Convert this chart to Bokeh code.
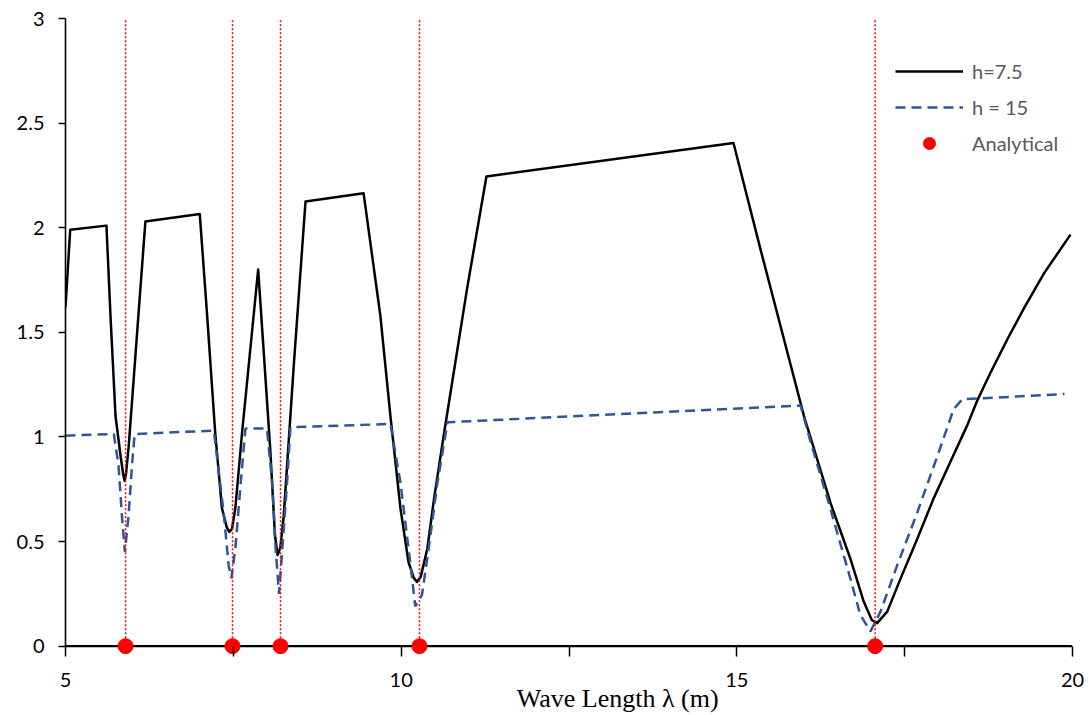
from bokeh.plotting import figure
from bokeh.models import (Range1d, FixedTicker, Legend, LegendItem, Span,
                          CustomJSTickFormatter)
from bokeh.embed import file_html
from bokeh.resources import INLINE

# ---- data ----
x_h75 = [5.0, 5.07, 5.61, 5.67, 5.745, 5.82, 5.86, 5.88, 5.90, 5.94, 6.19, 7.0, 7.11, 7.23,
         7.33, 7.40, 7.44, 7.48, 7.53, 7.63, 7.87, 7.95, 8.05, 8.12, 8.16, 8.20, 8.25, 8.30,
         8.40, 8.575, 9.44, 9.69, 9.84, 9.99, 10.11, 10.19, 10.235, 10.29, 10.39, 10.49,
         10.64, 10.98, 11.27, 14.95, 15.35, 16.0, 16.40, 16.69, 16.89, 17.01, 17.09, 17.24,
         17.44, 17.69, 17.93, 18.18, 18.43, 18.58, 18.78, 19.03, 19.28, 19.58, 19.97]
y_h75 = [1.62, 1.99, 2.01, 1.58, 1.10, 0.91, 0.82, 0.79, 0.82, 0.95, 2.03, 2.065, 1.58,
         1.02, 0.66, 0.57, 0.546, 0.56, 0.66, 1.02, 1.80, 1.42, 0.94, 0.53, 0.435, 0.47,
         0.62, 0.86, 1.34, 2.125, 2.165, 1.58, 1.10, 0.657, 0.40, 0.325, 0.307, 0.33,
         0.467, 0.705, 1.02, 1.705, 2.245, 2.405, 1.90, 1.10, 0.68, 0.419, 0.213, 0.125,
         0.11, 0.165, 0.324, 0.514, 0.705, 0.88, 1.054, 1.173, 1.308, 1.467, 1.617, 1.784,
         1.967]

x_h15 = [5.0, 5.72, 5.79, 5.84, 5.885, 5.94, 5.99, 6.03, 7.21, 7.36, 7.43, 7.47, 7.53, 7.61,
         7.68, 8.0, 8.08, 8.13, 8.18, 8.23, 8.30, 8.35, 9.84, 9.99, 10.14, 10.21, 10.31,
         10.41, 10.54, 10.69, 15.95, 16.10, 16.35, 16.69, 16.84, 16.99, 17.14, 17.39, 17.69,
         17.99, 18.23, 18.36, 19.88]
y_h15 = [1.006, 1.014, 0.863, 0.625, 0.45, 0.625, 0.863, 1.014, 1.03, 0.625, 0.387, 0.324,
         0.467, 0.78, 1.04, 1.04, 0.78, 0.467, 0.25, 0.467, 0.78, 1.046, 1.062, 0.78, 0.387,
         0.19, 0.245, 0.467, 0.78, 1.07, 1.15, 0.975, 0.705, 0.324, 0.149, 0.07, 0.165,
         0.387, 0.641, 0.911, 1.133, 1.18, 1.205]

x_analytical = [5.895, 7.488, 8.203, 10.273, 17.06]
y_analytical = [0, 0, 0, 0, 0]

x_ticks = [5, 7.5, 10, 12.5, 15, 17.5, 20]
y_ticks = [0, 0.5, 1, 1.5, 2, 2.5, 3]
x_title = "Wave Length λ (m)"
series_names = ["h=7.5", "h = 15", "Analytical"]

TICK_FONT = "Lato"
Y_MIN, Y_MAX = y_ticks[0], y_ticks[-1]

# a few pixels of room below y=0 so the analytical dots are not cut in half
p = figure(width=1085, height=715, output_backend="svg", toolbar_location=None,
           x_range=Range1d(x_ticks[0], x_ticks[-1]), y_range=Range1d(Y_MIN - 0.04, Y_MAX),
           min_border_left=65, min_border_right=13, min_border_top=18,
           min_border_bottom=59)
p.outline_line_color = None
p.grid.visible = False
p.background_fill_color = "white"

# x axis line drawn at y = 0
p.add_layout(Span(location=Y_MIN, dimension="width", line_color="black",
                  line_width=2.2, level="underlay"))

r1 = p.line(x_h75, y_h75, line_color="black", line_width=2.5, line_join="round")
r2 = p.line(x_h15, y_h15, line_color="#2F5597", line_width=2.5, line_dash="10 6")

p.segment(x0=x_analytical, y0=y_analytical, x1=x_analytical,
          y1=[Y_MAX] * len(x_analytical), line_color="red", line_width=1.5,
          line_dash="2 2")
r3 = p.scatter(x_analytical, y_analytical, size=15, fill_color="red", line_color="red")

# axes
p.xaxis.ticker = FixedTicker(ticks=x_ticks)
p.xaxis.formatter = CustomJSTickFormatter(code="return (tick % 5 == 0) ? tick.toString() : '';")
p.yaxis.ticker = FixedTicker(ticks=y_ticks)
p.yaxis.formatter = CustomJSTickFormatter(code="return tick.toString();")
p.yaxis.bounds = (Y_MIN, Y_MAX)
for ax in (p.xaxis, p.yaxis):
    ax.major_tick_line_color = "black"
    ax.major_tick_line_width = 1.5
    ax.minor_tick_line_color = None
    ax.major_label_text_font = TICK_FONT
    ax.major_label_text_font_size = "20px"
    ax.major_label_text_color = "black"
p.xaxis.axis_line_color = None
p.xaxis.major_tick_in = 8
p.xaxis.major_tick_out = 2
p.xaxis.major_label_standoff = 16
p.xaxis.major_label_text_line_height = 1.0
p.yaxis.axis_line_color = "black"
p.yaxis.axis_line_width = 1.6
p.yaxis.major_tick_in = 0
p.yaxis.major_tick_out = 7
p.yaxis.major_label_standoff = 14

# axis title, shifted right of centre as in the reference
p.xaxis.axis_label = "\u00a0" * 15 + x_title
p.xaxis.axis_label_text_font = "Liberation Serif"
p.xaxis.axis_label_text_font_size = "26px"
p.xaxis.axis_label_text_font_style = "normal"
p.xaxis.axis_label_text_color = "black"
p.xaxis.axis_label_standoff = -6
p.xaxis.axis_label_text_line_height = 1.0

legend = Legend(items=[LegendItem(label=series_names[0], renderers=[r1]),
                       LegendItem(label=series_names[1], renderers=[r2]),
                       LegendItem(label=series_names[2], renderers=[r3])],
                location=(830, 496), glyph_width=68, glyph_height=30, spacing=6,
                padding=0, margin=0, label_standoff=9,
                background_fill_alpha=0, border_line_color=None,
                label_text_font=TICK_FONT, label_text_font_size="20px",
                label_text_color="#595959")
p.add_layout(legend)

open("out.html", "w").write(file_html(p, INLINE))
